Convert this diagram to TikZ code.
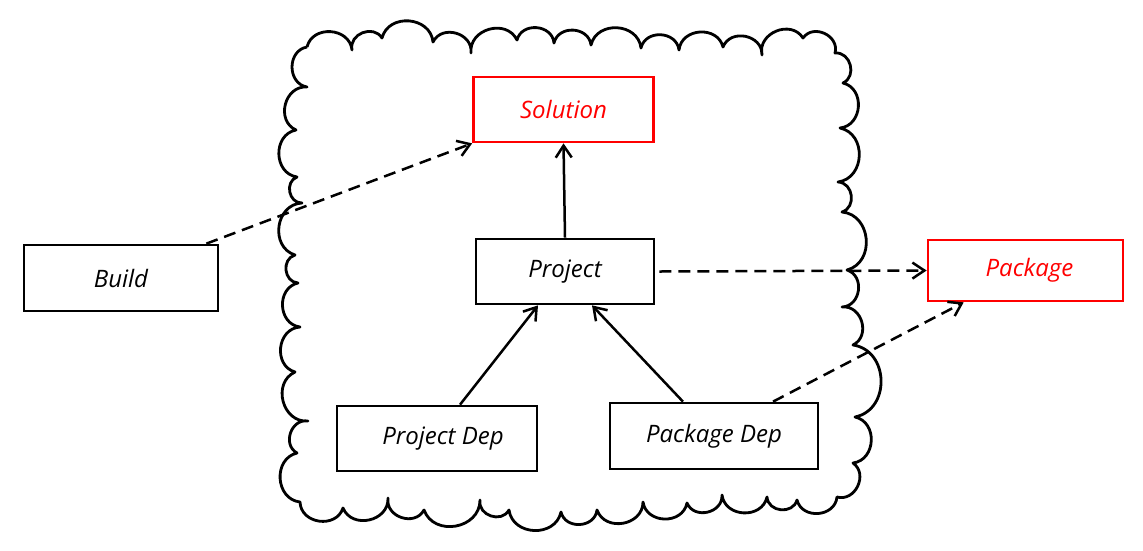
\documentclass[tikz,border=0pt]{standalone}
\usepackage{fontspec}
\setmainfont{Open Sans}
\usetikzlibrary{arrows.meta}
\definecolor{hred}{RGB}{255,0,0}
\begin{document}
\begin{tikzpicture}[x=1pt,y=-1pt,
  box/.style={draw=black, line width=2.7pt, inner sep=0pt,
    font=\fontsize{24}{28}\selectfont\itshape},
  redbox/.style={box, draw=hred, text=hred},
  conn/.style={line width=2.5pt, -{Straight Barb[length=12pt,width=16pt]}},
  dconn/.style={conn, dash pattern=on 12pt off 7pt},
  bump/.style={bend left=80, looseness=1.3}]
\useasboundingbox (0,0) rectangle (1143,550);

% cloud
\draw[line width=2.8pt, line join=round]
 (307,47) to[bump] (352,50) to[bump] (382,38) to[bump] (433,42) to[bump] (471,53)
 to[bump] (517,40) to[bump] (554,43) to[bump] (591,45) to[bump] (641,48)
 to[bump] (679,50) to[bump] (723,47) to[bump] (762,55) to[bump] (803,38)
 to[bump] (835,53) to[bump] (843,83) to[bump] (840,128) to[bump] (838,182)
 to[bump] (842,212) to[bump] (847,270) to[bump] (842,307) to[bump] (853,345)
 to[bump] (855,417) to[bump] (853,463) to[bump] (837,497) to[bump] (797,500)
 to[bump] (767,497) to[bump] (722,495) to[bump] (687,503) to[bump] (643,502)
 to[bump] (597,510) to[bump] (561,512) to[bump] (509,510) to[bump] (480,500)
 to[bump] (424,510) to[bump] (388,498) to[bump] (343,508) to[bump] (300,502)
 to[bump] (297,453) to[bump] (308,421) to[bump] (295,372) to[bump] (300,327)
 to[bump] (298,283) to[bump] (295,255) to[bump] (302,203) to[bump] (297,177)
 to[bump] (296,130) to[bump] (307,87) to[bump] (307,47);

% nodes
\node[redbox, minimum width=180pt, minimum height=65pt] (solution) at (563.5,109.5) {\raisebox{-2pt}{Solution}};
\node[box, minimum width=194pt, minimum height=66pt] (build) at (121,278) {\raisebox{-2pt}{Build}};
\node[box, minimum width=178pt, minimum height=65pt] (project) at (565,271.5) {\raisebox{-1pt}{Project}};
\node[redbox, minimum width=195pt, minimum height=61pt] (package) at (1025.5,270.5) {\raisebox{-1pt}{\hspace*{8pt}Package}};
\node[box, minimum width=200pt, minimum height=65pt] (pdep) at (437,438.5) {\raisebox{-1pt}{\hspace*{12pt}Project Dep}};
\node[box, minimum width=208pt, minimum height=66pt] (kdep) at (714,436) {\raisebox{-1pt}{Package Dep}};

% connectors
\draw[dconn] ([xshift=-13pt]build.north east) -- (solution.south west);
\draw[conn] (project.north) -- (solution.south);
\draw[dconn] ([xshift=4pt]project.east) -- (package.west);
\draw[conn] ([xshift=23pt]pdep.north) -- ([xshift=-27pt]project.south);
\draw[conn] ([xshift=-31pt]kdep.north) -- ([xshift=27pt]project.south);
\draw[dconn] ([xshift=59pt]kdep.north) -- ([xshift=37pt]package.south west);
\end{tikzpicture}
\end{document}
